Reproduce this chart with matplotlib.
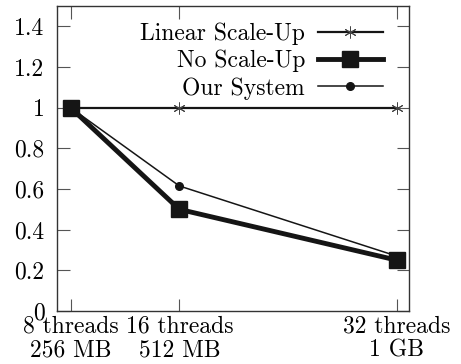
import matplotlib
matplotlib.use("Agg")
import matplotlib.pyplot as plt

threads = [8, 16, 32]
tick_labels = ["8 threads\n256 MB", "16 threads\n512 MB", "32 threads\n1 GB"]
linear = [1.0, 1.0, 1.0]
no_scale = [1.0, 0.5, 0.25]
our_system = [1.0, 0.615, 0.27]
yticks = [0, 0.2, 0.4, 0.6, 0.8, 1, 1.2, 1.4]
ytick_labels = ["0", "0.2", "0.4", "0.6", "0.8", "1", "1.2", "1.4"]

plt.rcParams['font.family'] = ['cmr10', 'DejaVu Serif']
plt.rcParams['axes.formatter.use_mathtext'] = True
FS = 17
plt.rcParams['font.size'] = FS

fig = plt.figure(figsize=(4.61, 3.64), dpi=100)
ax = fig.add_axes([57/461, 1 - 311/364, (409-57)/461, (311-6)/364])

col = '#151515'
ax.plot(threads, linear, color=col, lw=1.6, marker=(6, 2, 0), ms=8.5, mew=0.7,
        mec='#444444', label="Linear Scale-Up", zorder=2)
ax.plot(threads, no_scale, color=col, lw=3.5, marker='s', ms=11.5,
        label="No Scale-Up", zorder=3)
ax.plot(threads, our_system, color=col, lw=1.1, marker='o', ms=5.5,
        label="Our System", zorder=4)

ax.set_xlim(7, 32.9)
ax.set_ylim(0, 1.5)
ax.set_xticks(threads)
ax.set_xticklabels(tick_labels, linespacing=1.1)
ax.set_yticks(yticks)
ax.set_yticklabels(ytick_labels)
ax.tick_params(direction='in', length=9, width=0.8, top=True, right=True,
               color='#555555', labelsize=FS)
ax.tick_params(axis='y', pad=9)
ax.tick_params(axis='x', pad=3)
for s in ax.spines.values():
    s.set_linewidth(1.0)
    s.set_color('#333333')

leg = ax.legend(loc='upper right', bbox_to_anchor=(0.926, 0.945), frameon=False,
                markerfirst=False, handlelength=2.75, handletextpad=0.55,
                labelspacing=0.2, borderaxespad=0.0, borderpad=0.0, fontsize=FS)
for t in leg.get_texts():
    t.set_ha('right')

fig.savefig("out.png", dpi=100)
